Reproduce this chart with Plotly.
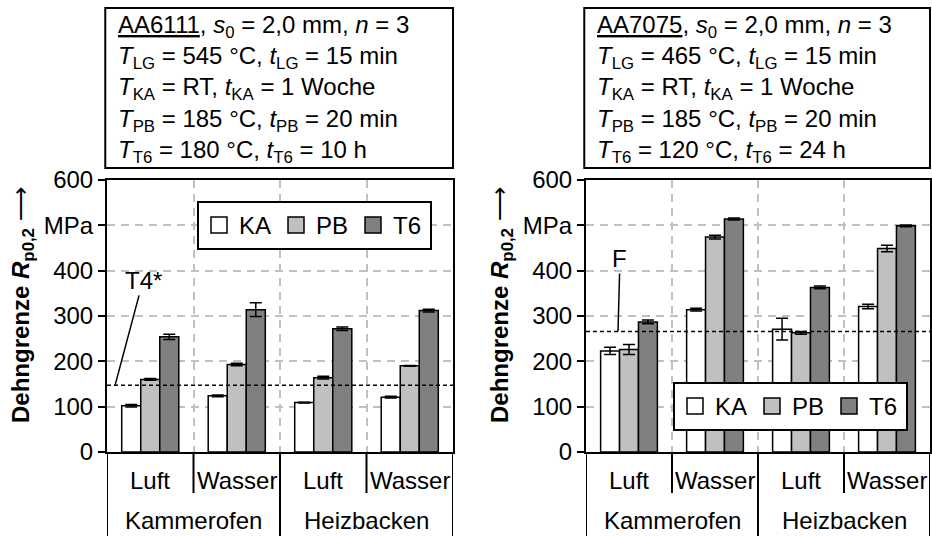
import plotly.graph_objects as go

# ---------------- data ----------------
furnaces = ["Kammerofen", "Heizbacken"]
media = ["Luft", "Wasser"]
categories = ["Kammerofen Luft", "Kammerofen Wasser", "Heizbacken Luft", "Heizbacken Wasser"]
states = ["KA", "PB", "T6"]
state_colors = ["#ffffff", "#c0c0c0", "#808080"]

# AA6111
aa6111_KA = [102, 124, 109, 121]
aa6111_KA_err = [3, 2, 1, 2]
aa6111_PB = [160, 193, 164, 190]
aa6111_PB_err = [2, 3, 3, 1]
aa6111_T6 = [254, 314, 272, 312]
aa6111_T6_err = [6, 15, 4, 3]
aa6111_T4_level = 147

# AA7075
aa7075_KA = [223, 314, 271, 321]
aa7075_KA_err = [8, 3, 24, 5]
aa7075_PB = [226, 474, 263, 449]
aa7075_PB_err = [11, 4, 3, 7]
aa7075_T6 = [287, 514, 363, 499]
aa7075_T6_err = [4, 2, 3, 2]
aa7075_F_level = 266

y_tickvals = [0, 100, 200, 300, 400, 500, 600]
y_ticktext = ["0", "100", "200", "300", "400", "MPa", "600"]

info_6111 = ("<u>AA6111</u>, <i>s</i><sub>0</sub> = 2,0 mm, <i>n</i> = 3<br>"
             "<i>T</i><sub>LG</sub> = 545 °C, <i>t</i><sub>LG</sub> = 15 min<br>"
             "<i>T</i><sub>KA</sub> = RT, <i>t</i><sub>KA</sub> = 1 Woche<br>"
             "<i>T</i><sub>PB</sub> = 185 °C, <i>t</i><sub>PB</sub> = 20 min<br>"
             "<i>T</i><sub>T6</sub> = 180 °C, <i>t</i><sub>T6</sub> = 10 h")
info_7075 = ("<u>AA7075</u>, <i>s</i><sub>0</sub> = 2,0 mm, <i>n</i> = 3<br>"
             "<i>T</i><sub>LG</sub> = 465 °C, <i>t</i><sub>LG</sub> = 15 min<br>"
             "<i>T</i><sub>KA</sub> = RT, <i>t</i><sub>KA</sub> = 1 Woche<br>"
             "<i>T</i><sub>PB</sub> = 185 °C, <i>t</i><sub>PB</sub> = 20 min<br>"
             "<i>T</i><sub>T6</sub> = 120 °C, <i>t</i><sub>T6</sub> = 24 h")
y_title = "<b>Dehngrenze <i>R</i><sub>p0,2</sub></b> ⟶"

# ---------------- layout helpers ----------------
W, H = 932, 536
FONT = "Arial, Liberation Sans, sans-serif"
FS = 24


def px(x):
    return x / W


def py(y):
    return 1 - y / H


fig = go.Figure()

panels = [
    ("x", "y", "legend", [aa6111_KA, aa6111_PB, aa6111_T6],
     [aa6111_KA_err, aa6111_PB_err, aa6111_T6_err]),
    ("x2", "y2", "legend2", [aa7075_KA, aa7075_PB, aa7075_T6],
     [aa7075_KA_err, aa7075_PB_err, aa7075_T6_err]),
]

for xa, ya, lg, vals, errs in panels:
    for s, c, v, e in zip(states, state_colors, vals, errs):
        fig.add_trace(go.Bar(
            x=categories, y=v, name=s, xaxis=xa, yaxis=ya,
            marker=dict(color=c, line=dict(color="black", width=1.5)),
            error_y=dict(type="data", array=e, color="black", thickness=1.5, width=6),
            showlegend=False,
        ))
    for s, c in zip(states, state_colors):
        fig.add_trace(go.Scatter(
            x=[None], y=[None], name=s, xaxis=xa, yaxis=ya, mode="markers",
            marker=dict(symbol="square", size=18, color=c, line=dict(color="black", width=1.5)),
            legend=lg, showlegend=True,
        ))

xdom1 = [px(107), px(453)]
xdom2 = [px(586), px(930)]
ydom = [py(452), py(180)]

common_x = dict(
    type="category", categoryorder="array", categoryarray=categories,
    range=[-0.5, 3.5], showticklabels=False, ticks="", tickson="boundaries",
    showgrid=True, gridcolor="#c0c0c0", gridwidth=1.5, griddash="8px,6px",
    showline=True, linecolor="black", linewidth=2, mirror=True, zeroline=False,
)
common_y = dict(
    range=[0, 600], tickvals=y_tickvals, ticktext=y_ticktext,
    ticks="outside", ticklen=7, tickwidth=1.5, tickcolor="black",
    tickfont=dict(family=FONT, size=FS, color="black"),
    showgrid=True, gridcolor="#c0c0c0", gridwidth=1.5, griddash="8px,6px",
    showline=True, linecolor="black", linewidth=2, mirror=True, zeroline=False,
    automargin=False,
)

legend_common = dict(
    orientation="h", xanchor="left", yanchor="top",
    bgcolor="white", bordercolor="black", borderwidth=2,
    font=dict(family=FONT, size=FS, color="black"),
    entrywidth=32, entrywidthmode="pixels", itemwidth=30, itemclick=False,
)

fig.update_layout(
    width=W, height=H, margin=dict(l=0, r=0, t=0, b=0, autoexpand=False),
    paper_bgcolor="white", plot_bgcolor="white",
    barmode="group", bargap=0.34, bargroupgap=0,
    font=dict(family=FONT, size=FS, color="black"),
    xaxis=dict(domain=xdom1, anchor="y", **common_x),
    yaxis=dict(domain=ydom, anchor="x", **common_y),
    xaxis2=dict(domain=xdom2, anchor="y2", **common_x),
    yaxis2=dict(domain=ydom, anchor="x2", **common_y),
    legend=dict(x=px(197), y=py(201), **legend_common),
    legend2=dict(x=px(673), y=py(382), **legend_common),
    showlegend=True,
)

shapes = []
annotations = []
for xa, ya, info, tx in [("x", "y", info_6111, 22), ("x2", "y2", info_7075, 501)]:
    # info box
    shapes.append(dict(type="rect", xref=f"{xa} domain", yref="paper",
                       x0=-0.005, x1=1.0, y0=py(168), y1=py(8),
                       line=dict(color="black", width=2), fillcolor="white"))
    annotations.append(dict(xref=f"{xa} domain", yref="paper", x=0.027, y=py(9),
                            xanchor="left", yanchor="top", align="left",
                            text=info, showarrow=False,
                            font=dict(family=FONT, size=FS, color="black")))
    # y axis title
    annotations.append(dict(xref="paper", yref="paper", x=px(tx), y=py(305),
                            xanchor="center", yanchor="middle", textangle=-90,
                            text=y_title, showarrow=False,
                            font=dict(family=FONT, size=FS, color="black")))
    # category dividers
    for b in [-0.5, 1.5, 3.5]:
        shapes.append(dict(type="line", xref=xa, yref="paper", x0=b, x1=b,
                           y0=0, y1=py(452), line=dict(color="black", width=2)))
    for b in [0.5, 2.5]:
        shapes.append(dict(type="line", xref=xa, yref="paper", x0=b, x1=b,
                           y0=py(493), y1=py(452), line=dict(color="black", width=2)))
    # category labels
    for i, f in enumerate(furnaces):
        for j, m in enumerate(media):
            annotations.append(dict(xref=xa, yref="paper", x=2 * i + j, y=py(480),
                                    xanchor="center", yanchor="middle", text=m,
                                    showarrow=False,
                                    font=dict(family=FONT, size=FS, color="black")))
        annotations.append(dict(xref=xa, yref="paper", x=2 * i + 0.5, y=py(520),
                                xanchor="center", yanchor="middle", text=f,
                                showarrow=False,
                                font=dict(family=FONT, size=FS, color="black")))

# reference lines
shapes.append(dict(type="line", xref="x domain", yref="y", x0=0, x1=1,
                   y0=aa6111_T4_level, y1=aa6111_T4_level,
                   line=dict(color="black", width=1.5, dash="4px,3px")))
shapes.append(dict(type="line", xref="x2 domain", yref="y2", x0=0, x1=1,
                   y0=aa7075_F_level, y1=aa7075_F_level,
                   line=dict(color="black", width=1.5, dash="4px,3px")))
annotations.append(dict(xref="x", yref="y", x=-0.407, y=aa6111_T4_level,
                        text="T4*", showarrow=True, arrowhead=0, arrowwidth=1.5,
                        arrowcolor="black", ax=28, ay=-105,
                        font=dict(family=FONT, size=FS, color="black")))
annotations.append(dict(xref="x2", yref="y2", x=-0.128, y=aa7075_F_level,
                        text="F", showarrow=True, arrowhead=0, arrowwidth=1.5,
                        arrowcolor="black", ax=2, ay=-73,
                        font=dict(family=FONT, size=FS, color="black")))

fig.update_layout(shapes=shapes, annotations=annotations)

fig.write_html("out.html")
